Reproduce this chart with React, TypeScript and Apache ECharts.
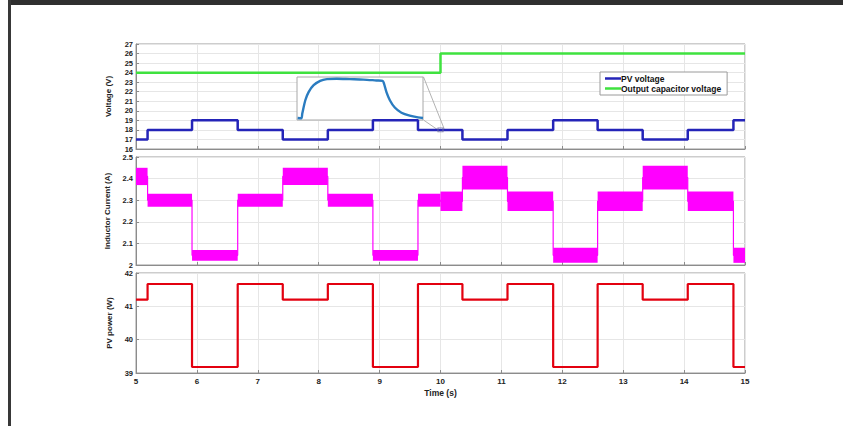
import React, { useEffect, useRef } from "react";
import * as echarts from "echarts";

// ---- Data ----
const stepTimes = [5, 5.19, 5.92, 6.67, 7.41, 8.15, 8.89, 9.63, 10.36, 11.1, 11.85, 12.58, 13.32, 14.06, 14.81, 15];
const pvVoltage = [17, 18, 19, 18, 17, 18, 19, 18, 17, 18, 19, 18, 17, 18, 19, 19];

const capTimes = [5, 10, 15];
const capVoltage = [24, 26, 26];

const currentTimes = [5, 5.19, 5.92, 6.67, 7.41, 8.15, 8.89, 9.63, 10.0, 10.36, 11.1, 11.85, 12.58, 13.32, 14.06, 14.81, 15];
const currentLow = [2.37, 2.27, 2.02, 2.27, 2.37, 2.27, 2.02, 2.27, 2.25, 2.35, 2.25, 2.01, 2.25, 2.35, 2.25, 2.01];
const currentHigh = [2.45, 2.33, 2.07, 2.33, 2.45, 2.33, 2.07, 2.33, 2.34, 2.46, 2.34, 2.08, 2.34, 2.46, 2.34, 2.08];

const pvPower = [41.2, 41.67, 39.18, 41.67, 41.2, 41.67, 39.18, 41.67, 41.2, 41.67, 39.18, 41.67, 41.2, 41.67, 39.18, 39.18];

// inset (zoomed transient), normalised 0..100 coordinates
const insetX = [0.5, 3.4, 4.2, 6.6, 9.2, 13.2, 18.4, 23.7, 31.6, 42, 52.6, 63, 68, 69, 71, 73.7, 77.6, 82.9, 89.5, 96, 100];
const insetY = [4.6, 3.8, 15, 46, 65, 81, 91, 95, 96, 95, 94, 92, 91, 85, 65, 46, 29, 17, 10, 6, 4.6];

// zoom connector lines (data coordinates of the voltage panel)
const connectorA = [[9.72, 23.57], [10.06, 18.12]];
const connectorB = [[9.72, 19.04], [9.98, 17.9]];
const zoomMark = [[10.0, 18.0]];

const FONT = "Liberation Sans, Arial, sans-serif";

export default function App() {
  const ref = useRef<HTMLDivElement>(null);

  useEffect(() => {
    if (!ref.current) return;
    const chart = echarts.init(ref.current, undefined, { renderer: "svg" });

    const pvData = stepTimes.map((t, i) => [t, pvVoltage[i]]);
    const capData = capTimes.map((t, i) => [t, capVoltage[i]]);
    const powData = stepTimes.map((t, i) => [t, pvPower[i]]);
    const bandData = currentLow.map((lo, i) => [currentTimes[i], currentTimes[i + 1], lo, currentHigh[i]]);
    const midData = currentLow.map((lo, i) => [currentTimes[i], (lo + currentHigh[i]) / 2]);
    midData.push([15, midData[midData.length - 1][1]]);
    const insetData = insetX.map((x, i) => [x, insetY[i]]);

    const axisBase = {
      axisLine: { lineStyle: { color: "#8c8c8c", width: 1 } },
      axisTick: { inside: true, length: 3, lineStyle: { color: "#8c8c8c" } },
      splitLine: { show: true, lineStyle: { color: "#e6e6e6", width: 1 } },
      axisLabel: { color: "#222", fontSize: 7.5, fontWeight: "bold", fontFamily: FONT, margin: 3 },
      nameTextStyle: { color: "#222", fontSize: 8, fontWeight: "bold", fontFamily: FONT },
    };

    const xAx = (i: number, showLabel: boolean) => ({
      ...axisBase,
      type: "value",
      gridIndex: i,
      min: 5,
      max: 15,
      interval: 1,
      axisLabel: { ...axisBase.axisLabel, show: showLabel, fontSize: 8, margin: 4 },
      name: showLabel ? "Time (s)" : "",
      nameLocation: "middle",
      nameGap: 15,
      nameTextStyle: { ...axisBase.nameTextStyle, fontSize: 8.5 },
    });

    const option: any = {
      animation: false,
      backgroundColor: "#fff",
      grid: [
        { left: 136, width: 609, top: 44, height: 105, show: true, borderColor: "#9a9a9a", backgroundColor: "#fff" },
        { left: 136, width: 609, top: 157, height: 108, show: true, borderColor: "#9a9a9a", backgroundColor: "#fff" },
        { left: 136, width: 609, top: 273, height: 100, show: true, borderColor: "#9a9a9a", backgroundColor: "#fff" },
        { left: 297, width: 126, top: 77, height: 43, show: true, borderColor: "#a8a8a8", backgroundColor: "#fff", z: 3 },
      ],
      xAxis: [
        xAx(0, false),
        xAx(1, false),
        xAx(2, true),
        { type: "value", gridIndex: 3, min: 0, max: 100, show: false },
      ],
      yAxis: [
        {
          ...axisBase, type: "value", gridIndex: 0, min: 16, max: 27, interval: 1,
          name: "Voltage (V)", nameLocation: "middle", nameGap: 24,
        },
        {
          ...axisBase, type: "value", gridIndex: 1, min: 2, max: 2.5, interval: 0.1,
          name: "Inductor Current (A)", nameLocation: "middle", nameGap: 24,
        },
        {
          ...axisBase, type: "value", gridIndex: 2, min: 39, max: 42, interval: 1,
          name: "PV power (W)", nameLocation: "middle", nameGap: 20,
        },
        { type: "value", gridIndex: 3, min: 0, max: 100, show: false },
      ],
      legend: {
        data: ["PV voltage", "Output capacitor voltage"],
        orient: "vertical",
        left: 600,
        top: 72,
        icon: "rect",
        itemWidth: 16,
        itemHeight: 2.5,
        itemGap: 1,
        padding: [2, 6, 2, 5],
        backgroundColor: "#fff",
        borderColor: "#9a9a9a",
        borderWidth: 1,
        textStyle: { color: "#111", fontSize: 8.5, fontWeight: "bold", fontFamily: FONT, padding: [0, 0, 0, -5] },
      },
      series: [
        {
          name: "PV voltage", type: "line", step: "end", xAxisIndex: 0, yAxisIndex: 0,
          data: pvData, symbol: "none", lineStyle: { color: "#2424b8", width: 2.5 }, itemStyle: { color: "#2424b8" }, z: 7,
        },
        {
          name: "Output capacitor voltage", type: "line", step: "end", xAxisIndex: 0, yAxisIndex: 0,
          data: capData, symbol: "none", lineStyle: { color: "#3fe23f", width: 2.5 }, itemStyle: { color: "#3fe23f" }, z: 2,
        },
        {
          name: "connA", type: "line", xAxisIndex: 0, yAxisIndex: 0, data: connectorA, symbol: "none",
          lineStyle: { color: "#a0a0a0", width: 0.8 }, z: 4, silent: true,
        },
        {
          name: "connB", type: "line", xAxisIndex: 0, yAxisIndex: 0, data: connectorB, symbol: "none",
          lineStyle: { color: "#a0a0a0", width: 0.8 }, z: 4, silent: true,
        },
        {
          name: "zoomBox", type: "scatter", xAxisIndex: 0, yAxisIndex: 0, data: zoomMark, symbol: "rect",
          symbolSize: [5, 4], itemStyle: { color: "rgba(0,0,0,0)", borderColor: "#6a6a9a", borderWidth: 1 }, z: 8,
        },
        {
          name: "inset", type: "line", xAxisIndex: 3, yAxisIndex: 3, data: insetData, symbol: "none", smooth: 0.3,
          lineStyle: { color: "#2b7cc0", width: 2.4 }, z: 6,
        },
        {
          name: "currentMid", type: "line", step: "end", xAxisIndex: 1, yAxisIndex: 1, data: midData, symbol: "none",
          lineStyle: { color: "#ff00ff", width: 1.2 }, z: 2,
        },
        {
          name: "currentBand", type: "custom", xAxisIndex: 1, yAxisIndex: 1, data: bandData,
          encode: { x: [0, 1], y: [2, 3] },
          renderItem: (params: any, api: any) => {
            const a = api.coord([api.value(0), api.value(3)]);
            const b = api.coord([api.value(1), api.value(2)]);
            return {
              type: "rect",
              shape: { x: a[0], y: a[1], width: b[0] - a[0], height: b[1] - a[1] },
              style: { fill: "#ff00ff" },
            };
          },
          z: 3,
        },
        {
          name: "PV power", type: "line", step: "end", xAxisIndex: 2, yAxisIndex: 2, data: powData, symbol: "none",
          lineStyle: { color: "#e3000f", width: 2.2 }, z: 2,
        },
      ],
    };

    chart.setOption(option);
    return () => chart.dispose();
  }, []);

  return (
    <div style={{ position: "fixed", left: 0, top: 0, width: 843, height: 426, background: "#fff", overflow: "hidden" }}>
      <div ref={ref} style={{ position: "absolute", left: 0, top: 0, width: 843, height: 426 }} />
      <div style={{ position: "absolute", left: 8, top: 0, width: 835, height: 5, background: "#2f2f2f" }} />
      <div style={{ position: "absolute", left: 8, top: 0, width: 3, height: 426, background: "#383838" }} />
    </div>
  );
}
